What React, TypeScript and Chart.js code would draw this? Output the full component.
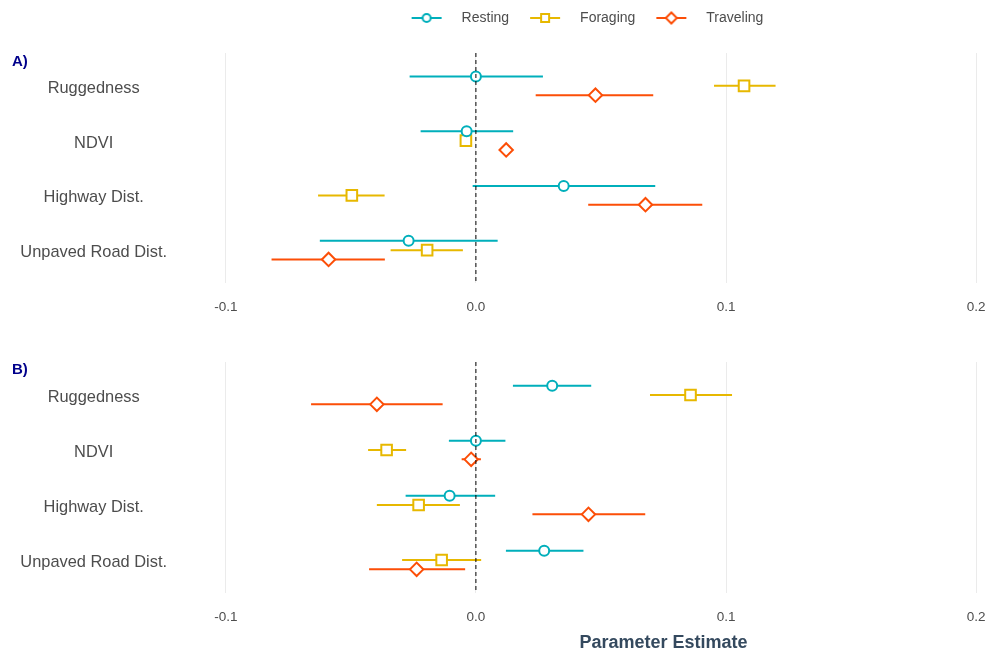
import React, { useEffect, useRef } from "react";
import Chart from "chart.js/auto";

// ---------- data ----------
const categories = ["Ruggedness", "NDVI", "Highway Dist.", "Unpaved Road Dist."];
const seriesNames = ["Resting", "Foraging", "Traveling"];
const seriesColors = ["#00AFBB", "#E7B800", "#FC4E07"];
const xTickValues = [-0.1, 0.0, 0.1, 0.2];
const referenceLine = 0;
const panelLabels = ["A)", "B)"];
const xAxisTitle = "Parameter Estimate";

// Panel A
const restingEstA = [0.0, -0.0037, 0.0351, -0.0269];
const restingLoA = [-0.0265, -0.0221, -0.0013, -0.0624];
const restingHiA = [0.0268, 0.0149, 0.0717, 0.0087];
const foragingEstA = [0.1072, -0.004, -0.0496, -0.0195];
const foragingLoA = [0.0952, -0.0055, -0.0631, -0.0341];
const foragingHiA = [0.1198, -0.0025, -0.0365, -0.0052];
const travelingEstA = [0.0478, 0.0121, 0.0678, -0.0589];
const travelingLoA = [0.0239, 0.0105, 0.0449, -0.0817];
const travelingHiA = [0.0709, 0.0137, 0.0905, -0.0364];

// Panel B
const restingEstB = [0.0305, 0.0, -0.0105, 0.0273];
const restingLoB = [0.0148, -0.0108, -0.0281, 0.012];
const restingHiB = [0.0461, 0.0118, 0.0077, 0.043];
const foragingEstB = [0.0858, -0.0357, -0.0229, -0.0137];
const foragingLoB = [0.0696, -0.0431, -0.0396, -0.0295];
const foragingHiB = [0.1024, -0.0279, -0.0064, 0.0021];
const travelingEstB = [-0.0396, -0.0019, 0.045, -0.0237];
const travelingLoB = [-0.0659, -0.0057, 0.0226, -0.0427];
const travelingHiB = [-0.0133, 0.002, 0.0677, -0.0043];

// ---------- styling / layout constants ----------
const X_MIN = -0.1175;
const X_MAX = 0.2675;
const Y_MIN = 0.4;
const Y_MAX = 4.6;
const DODGE = [-0.17, 0, 0.17];
const POINT_STYLES = ["circle", "rect", "rectRot"];
const POINT_SIZES = [5, 7.5, 6.7];
const TEXT_GREY = "#4D4D4D";
const FONT = "'Liberation Sans', Arial, Helvetica, sans-serif";
const CANVAS_W = 1180;
const PAD_LEFT = 5;
const Y_AXIS_W = 177;
const PAD_RIGHT = 35;
const LEGEND_SHIFT = 6;

type Series = { est: number[]; lo: number[]; hi: number[] };

const panelA: Series[] = [
  { est: restingEstA, lo: restingLoA, hi: restingHiA },
  { est: foragingEstA, lo: foragingLoA, hi: foragingHiA },
  { est: travelingEstA, lo: travelingLoA, hi: travelingHiA },
];
const panelB: Series[] = [
  { est: restingEstB, lo: restingLoB, hi: restingHiB },
  { est: foragingEstB, lo: foragingLoB, hi: foragingHiB },
  { est: travelingEstB, lo: travelingLoB, hi: travelingHiB },
];

function buildDatasets(panel: Series[]) {
  const ds: any[] = [];
  panel.forEach((s, si) => {
    const color = seriesColors[si];
    const off = DODGE[si];
    const ci: any[] = [];
    categories.forEach((_, c) => {
      ci.push({ x: s.lo[c], y: c + 1 + off });
      ci.push({ x: s.hi[c], y: c + 1 + off });
      ci.push({ x: null, y: null });
    });
    ds.push({
      label: seriesNames[si] + " interval",
      data: ci,
      showLine: true,
      spanGaps: false,
      borderColor: color,
      borderWidth: 2,
      pointRadius: 0,
      order: 3,
    });
    ds.push({
      label: seriesNames[si],
      data: s.est.map((v, c) => ({ x: v, y: c + 1 + off })),
      showLine: false,
      pointStyle: POINT_STYLES[si],
      pointRadius: POINT_SIZES[si],
      pointBackgroundColor: "#FFFFFF",
      pointBorderColor: color,
      pointBorderWidth: 2,
      order: 2,
    });
  });
  ds.push({
    label: "zero",
    data: [
      { x: referenceLine, y: Y_MIN },
      { x: referenceLine, y: Y_MAX },
    ],
    showLine: true,
    borderColor: "#000000",
    borderWidth: 1,
    borderDash: [4, 3],
    pointRadius: 0,
    order: 1,
  });
  return ds;
}

function makeScales(axisHeight: number, showTitle: boolean) {
  return {
    x: {
      type: "linear",
      min: X_MIN,
      max: X_MAX,
      afterBuildTicks: (axis: any) => {
        axis.ticks = xTickValues.map((v) => ({ value: v }));
      },
      afterFit: (axis: any) => {
        axis.height = axisHeight;
      },
      grid: { color: "#EBEBEB", lineWidth: 1, drawTicks: false },
      border: { display: false },
      ticks: {
        padding: 16,
        color: TEXT_GREY,
        font: { size: 13.5, family: FONT },
        autoSkip: false,
        maxRotation: 0,
        callback: (v: any) => Number(v).toFixed(1),
      },
      title: {
        display: showTitle,
        text: xAxisTitle,
        color: "#34495E",
        font: { size: 18, weight: "bold", family: FONT },
        padding: { top: 4, bottom: 0 },
      },
    },
    y: {
      type: "linear",
      reverse: true,
      min: Y_MIN,
      max: Y_MAX,
      afterBuildTicks: (axis: any) => {
        axis.ticks = categories.map((_, i) => ({ value: i + 1 }));
      },
      afterFit: (axis: any) => {
        axis.width = Y_AXIS_W;
      },
      grid: { display: false, drawTicks: false },
      border: { display: false },
      ticks: {
        padding: 15,
        labelOffset: 2.5,
        crossAlign: "center",
        autoSkip: false,
        color: TEXT_GREY,
        font: { size: 16.4, family: FONT },
        callback: (v: any) => categories[Math.round(Number(v)) - 1] ?? "",
      },
    },
  };
}

function legendSymbol(color: string, style: string) {
  const c = document.createElement("canvas");
  c.width = 56;
  c.height = 14;
  const ctx = c.getContext("2d")!;
  ctx.strokeStyle = color;
  ctx.lineWidth = 2;
  ctx.beginPath();
  ctx.moveTo(13, 7);
  ctx.lineTo(43, 7);
  ctx.stroke();
  ctx.fillStyle = "#FFFFFF";
  ctx.beginPath();
  if (style === "circle") {
    ctx.arc(28, 7, 4, 0, Math.PI * 2);
  } else if (style === "rect") {
    ctx.rect(24, 3, 8, 8);
  } else {
    ctx.moveTo(22.5, 7);
    ctx.lineTo(28, 1.5);
    ctx.lineTo(33.5, 7);
    ctx.lineTo(28, 12.5);
    ctx.closePath();
  }
  ctx.fill();
  ctx.stroke();
  return c;
}

const legendShiftPlugin = {
  id: "legendShift",
  afterLayout(chart: any) {
    const lg = chart.legend;
    if (lg) {
      lg.left += LEGEND_SHIFT;
      lg.right += LEGEND_SHIFT;
    }
  },
};

export default function App() {
  const ref1 = useRef<HTMLCanvasElement>(null);
  const ref2 = useRef<HTMLCanvasElement>(null);

  useEffect(() => {
    Chart.defaults.font.family = FONT;
    const symbols = seriesNames.map((_, i) => legendSymbol(seriesColors[i], POINT_STYLES[i]));

    const chart1 = new Chart(ref1.current!, {
      type: "scatter",
      data: { datasets: buildDatasets(panelA) },
      plugins: [legendShiftPlugin],
      options: {
        animation: false,
        responsive: false,
        events: [],
        layout: { padding: { top: 3, left: PAD_LEFT, right: PAD_RIGHT, bottom: 0 } },
        scales: makeScales(47, false) as any,
        plugins: {
          tooltip: { enabled: false },
          title: {
            display: true,
            text: "",
            weight: 500,
            padding: { top: 0, bottom: 0 },
            font: { size: 15, lineHeight: 1.2 },
          } as any,
          legend: {
            display: true,
            position: "top",
            align: "center",
            labels: {
              usePointStyle: true,
              pointStyleWidth: 56,
              boxHeight: 14,
              padding: 8,
              color: TEXT_GREY,
              font: { size: 14, family: FONT },
              generateLabels: () =>
                seriesNames.map((n, i) => ({
                  text: n,
                  pointStyle: symbols[i] as any,
                  fillStyle: seriesColors[i],
                  strokeStyle: seriesColors[i],
                  lineWidth: 0,
                  hidden: false,
                  datasetIndex: i * 2,
                  fontColor: TEXT_GREY,
                })),
            },
          },
        },
      },
    });

    const chart2 = new Chart(ref2.current!, {
      type: "scatter",
      data: { datasets: buildDatasets(panelB) },
      options: {
        animation: false,
        responsive: false,
        events: [],
        layout: { padding: { top: 32, left: PAD_LEFT, right: PAD_RIGHT, bottom: 0 } },
        scales: makeScales(61, true) as any,
        plugins: {
          tooltip: { enabled: false },
          legend: { display: false },
          title: { display: false },
        },
      },
    });

    return () => {
      chart1.destroy();
      chart2.destroy();
    };
  }, []);

  const tagStyle: React.CSSProperties = {
    position: "absolute",
    left: 12,
    fontFamily: FONT,
    fontWeight: "bold",
    fontSize: 15,
    lineHeight: "15px",
    color: "#00008B",
    margin: 0,
  };

  return (
    <div
      style={{
        position: "absolute",
        left: 0,
        top: 0,
        width: 989,
        height: 654,
        overflow: "hidden",
        background: "#FFFFFF",
      }}
    >
      <canvas
        ref={ref1}
        width={CANVAS_W}
        height={330}
        style={{ position: "absolute", left: 0, top: 0, display: "block" }}
      />
      <canvas
        ref={ref2}
        width={CANVAS_W}
        height={324}
        style={{ position: "absolute", left: 0, top: 330, display: "block" }}
      />
      <div style={{ ...tagStyle, top: 53 }}>{panelLabels[0]}</div>
      <div style={{ ...tagStyle, top: 361 }}>{panelLabels[1]}</div>
    </div>
  );
}
